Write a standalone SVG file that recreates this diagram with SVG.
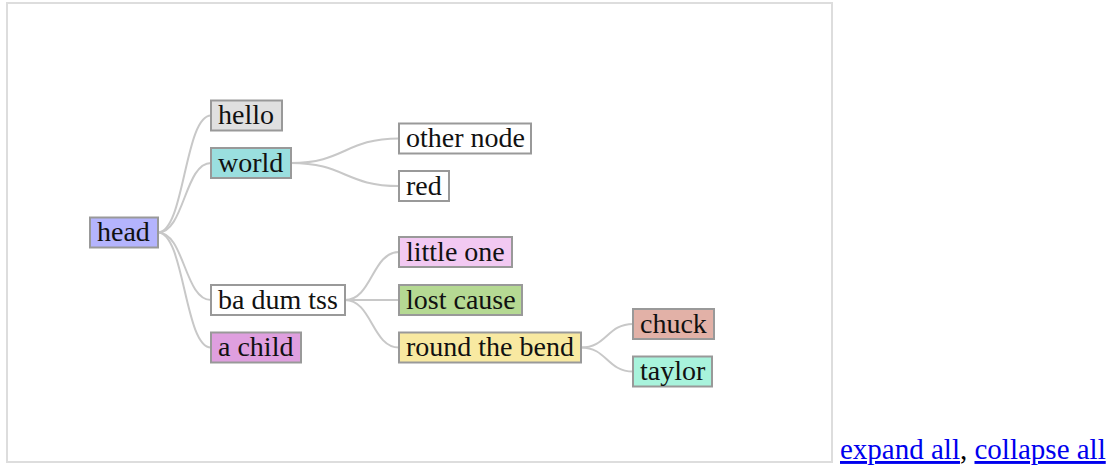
<svg xmlns="http://www.w3.org/2000/svg" width="1113" height="468" viewBox="0 0 1113 468">
  <style>
    .frame { fill: #ffffff; stroke: #dddddd; stroke-width: 2; }
    .node rect { stroke: #999999; stroke-width: 2; }
    .node text { font-family: "Liberation Serif", "Times New Roman", serif; font-size: 28px; fill: #111111; }
    .link { fill: none; stroke: #c8c8c8; stroke-width: 2; }
    .ctl { font-family: "Liberation Serif", "Times New Roman", serif; font-size: 29px; }
    .ctl .a { fill: #0000ee; text-decoration: underline; }
  </style>
  <rect width="1113" height="468" fill="#ffffff"/>
  <rect class="frame" x="7" y="3" width="825" height="459"/>

  <!-- tree connectors: horizontal S-curves from parent right edge to child left edge -->
  <g id="links">
    <path class="link" d="M158,232.5 C184.5,232.5 184.5,115.5 211,115.5"/>
    <path class="link" d="M158,232.5 C184.5,232.5 184.5,163 211,163"/>
    <path class="link" d="M158,232.5 C184.5,232.5 184.5,300 211,300"/>
    <path class="link" d="M158,232.5 C184.5,232.5 184.5,347.5 211,347.5"/>
    <path class="link" d="M291,163 C345,163 345,138.5 399,138.5"/>
    <path class="link" d="M291,163 C345,163 345,186 399,186"/>
    <path class="link" d="M345,300 C372,300 372,252 399,252"/>
    <path class="link" d="M345,300 C372,300 372,300 399,300"/>
    <path class="link" d="M345,300 C372,300 372,347.5 399,347.5"/>
    <path class="link" d="M581,347.5 C607,347.5 607,324 633,324"/>
    <path class="link" d="M581,347.5 C607,347.5 607,371.5 633,371.5"/>
  </g>

  <g id="node-head" class="node">
    <rect x="90" y="217.5" width="68" height="30" fill="#b4b4fd"/>
    <text x="97" y="241">head</text>
  </g>
  <g id="node-hello" class="node">
    <rect x="211" y="100.5" width="71" height="30" fill="#e0e0e0"/>
    <text x="218" y="124">hello</text>
  </g>
  <g id="node-world" class="node">
    <rect x="211" y="148" width="80" height="30" fill="#9adfdf"/>
    <text x="218" y="171.5">world</text>
  </g>
  <g id="node-ba-dum-tss" class="node">
    <rect x="211" y="285" width="134" height="30" fill="#ffffff"/>
    <text x="218" y="308.5">ba dum tss</text>
  </g>
  <g id="node-a-child" class="node">
    <rect x="211" y="332.5" width="90" height="30" fill="#df9fdf"/>
    <text x="218" y="356">a child</text>
  </g>
  <g id="node-other-node" class="node">
    <rect x="399" y="123.5" width="132" height="30" fill="#ffffff"/>
    <text x="406" y="147">other node</text>
  </g>
  <g id="node-red" class="node">
    <rect x="399" y="171" width="50" height="30" fill="#ffffff"/>
    <text x="406" y="194.5">red</text>
  </g>
  <g id="node-little-one" class="node">
    <rect x="399" y="237" width="113" height="30" fill="#f2c9f2"/>
    <text x="406" y="260.5">little one</text>
  </g>
  <g id="node-lost-cause" class="node">
    <rect x="399" y="285" width="123" height="30" fill="#b5d993"/>
    <text x="406" y="308.5">lost cause</text>
  </g>
  <g id="node-round-the-bend" class="node">
    <rect x="399" y="332.5" width="182" height="30" fill="#f8e9a1"/>
    <text x="406" y="356">round the bend</text>
  </g>
  <g id="node-chuck" class="node">
    <rect x="633" y="309" width="81" height="30" fill="#e2b1a7"/>
    <text x="640" y="332.5">chuck</text>
  </g>
  <g id="node-taylor" class="node">
    <rect x="633" y="356.5" width="79" height="30" fill="#a8f3dc"/>
    <text x="640" y="380">taylor</text>
  </g>

  <!-- expand / collapse controls -->
  <g id="controls" class="ctl">
    <text x="840" y="459"><tspan class="a">expand all</tspan><tspan fill="#000000">, </tspan><tspan class="a">collapse all</tspan></text>
  </g>
</svg>
